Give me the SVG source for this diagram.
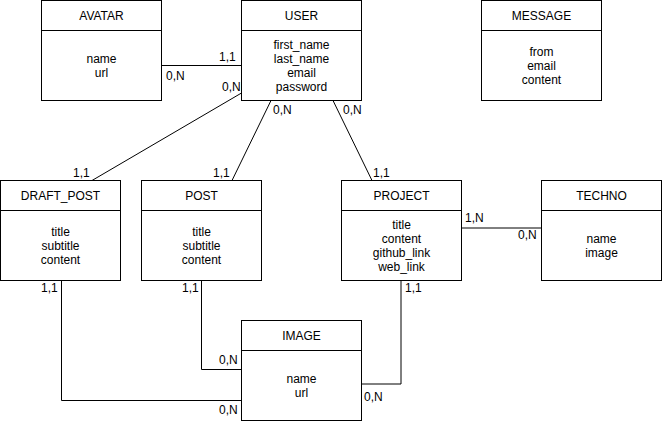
<svg xmlns="http://www.w3.org/2000/svg" width="662" height="422" viewBox="0 0 662 422">
<style>
.box{fill:#fff;stroke:#000;stroke-width:1}
.sep{stroke:#000;stroke-width:1}
text{font-family:"Liberation Sans",Arial,Helvetica,sans-serif;font-size:12px;fill:#000}
.c{text-anchor:middle}
.e{fill:none;stroke:#000;stroke-width:1}
</style>
<rect width="662" height="422" fill="#fff"/>
<g id="connectors">
<path class="e" d="M161.5 65.5H241.5"/>
<path class="e" d="M241.5 93L92 180.5"/>
<path class="e" d="M271 100.5L232 180.5"/>
<path class="e" d="M333 100.5L372 180.5"/>
<path class="e" d="M461.5 228H541.5"/>
<path class="e" d="M401 280.5V384H362"/>
<path class="e" d="M201.5 280.5V369.5H241.5"/>
<path class="e" d="M61.5 280.5V400.5H241.5"/>
<text x="219" y="61">1,1</text>
<text x="166" y="80">0,N</text>
<text x="222" y="91">0,N</text>
<text x="273" y="114">0,N</text>
<text x="73" y="177">1,1</text>
<text x="213" y="177">1,1</text>
<text x="343" y="114">0,N</text>
<text x="373" y="177">1,1</text>
<text x="465" y="222">1,N</text>
<text x="518" y="239">0,N</text>
<text x="405" y="292">1,1</text>
<text x="364" y="401">0,N</text>
<text x="41" y="292">1,1</text>
<text x="182" y="292">1,1</text>
<text x="219" y="364">0,N</text>
<text x="219" y="414">0,N</text>
</g>
<g id="avatar">
<rect class="box" x="41.5" y="0.5" width="120" height="100"/>
<line class="sep" x1="41.5" y1="30.5" x2="161.5" y2="30.5"/>
<text class="c" x="101.5" y="20">AVATAR</text>
<text class="c" x="101.5" y="63">name</text>
<text class="c" x="101.5" y="77">url</text>
</g>
<g id="user">
<rect class="box" x="241.5" y="0.5" width="120" height="100"/>
<line class="sep" x1="241.5" y1="30.5" x2="361.5" y2="30.5"/>
<text class="c" x="301.5" y="20">USER</text>
<text class="c" x="301.5" y="49">first_name</text>
<text class="c" x="301.5" y="63">last_name</text>
<text class="c" x="301.5" y="77">email</text>
<text class="c" x="301.5" y="91">password</text>
</g>
<g id="message">
<rect class="box" x="481.5" y="0.5" width="120" height="100"/>
<line class="sep" x1="481.5" y1="30.5" x2="601.5" y2="30.5"/>
<text class="c" x="541.5" y="20">MESSAGE</text>
<text class="c" x="541.5" y="56">from</text>
<text class="c" x="541.5" y="70">email</text>
<text class="c" x="541.5" y="84">content</text>
</g>
<g id="draft_post">
<rect class="box" x="0.5" y="180.5" width="120" height="100"/>
<line class="sep" x1="0.5" y1="210.5" x2="120.5" y2="210.5"/>
<text class="c" x="60.5" y="200">DRAFT_POST</text>
<text class="c" x="60.5" y="236">title</text>
<text class="c" x="60.5" y="250">subtitle</text>
<text class="c" x="60.5" y="264">content</text>
</g>
<g id="post">
<rect class="box" x="141.5" y="180.5" width="120" height="100"/>
<line class="sep" x1="141.5" y1="210.5" x2="261.5" y2="210.5"/>
<text class="c" x="201.5" y="200">POST</text>
<text class="c" x="201.5" y="236">title</text>
<text class="c" x="201.5" y="250">subtitle</text>
<text class="c" x="201.5" y="264">content</text>
</g>
<g id="project">
<rect class="box" x="341.5" y="180.5" width="120" height="100"/>
<line class="sep" x1="341.5" y1="210.5" x2="461.5" y2="210.5"/>
<text class="c" x="401.5" y="200">PROJECT</text>
<text class="c" x="401.5" y="229">title</text>
<text class="c" x="401.5" y="243">content</text>
<text class="c" x="401.5" y="257">github_link</text>
<text class="c" x="401.5" y="271">web_link</text>
</g>
<g id="techno">
<rect class="box" x="541.5" y="180.5" width="120" height="100"/>
<line class="sep" x1="541.5" y1="210.5" x2="661.5" y2="210.5"/>
<text class="c" x="601.5" y="200">TECHNO</text>
<text class="c" x="601.5" y="243">name</text>
<text class="c" x="601.5" y="257">image</text>
</g>
<g id="image">
<rect class="box" x="241.5" y="320.5" width="120" height="100"/>
<line class="sep" x1="241.5" y1="350.5" x2="361.5" y2="350.5"/>
<text class="c" x="301.5" y="340">IMAGE</text>
<text class="c" x="301.5" y="383">name</text>
<text class="c" x="301.5" y="397">url</text>
</g>
</svg>
